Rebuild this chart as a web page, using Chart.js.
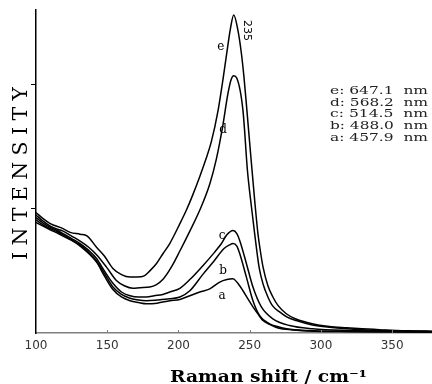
<!DOCTYPE html>
<html><head><meta charset="utf-8">
<script src="https://cdn.jsdelivr.net/npm/chart.js@4/dist/chart.umd.min.js"></script>
<style>html,body{margin:0;padding:0;background:#fff}#wrap{width:432px;height:384px}</style>
</head><body><div id="wrap"><canvas id="c" width="432" height="384"></canvas></div>
<script>
// ---- data ----
const xTicks = [100,150,200,250,300,350];
const yTicks = [1,2];
const curveNames = ['a','b','c','d','e'];
const legendLines = ['e: 647.1  nm','d: 568.2  nm','c: 514.5  nm','b: 488.0  nm','a: 457.9  nm'];
const peakText = '235';

const xA = [100,105,110,115,119,125,131,137,142.5,148,154,160,166,172,177.6,185,194,201,208,215,222,229,234,238.3,241,245.3,249,252.3,256,259.3,264,270,280,295,315,340,378];
const yA = [0.89,0.86,0.83,0.805,0.78,0.745,0.70,0.64,0.57,0.46,0.35,0.29,0.26,0.245,0.235,0.24,0.26,0.27,0.30,0.33,0.355,0.41,0.43,0.436,0.41,0.34,0.27,0.21,0.15,0.10,0.07,0.04,0.025,0.015,0.012,0.01,0.008];

const xB = [100,105,110,115,119,125,131,137,142.5,148,154,160,166,172,177.6,185,194,201,208,217,225,232,236,238.3,241,243,247.7,252.3,257,264,270,276,290,320,350,378];
const yB = [0.91,0.87,0.84,0.815,0.79,0.75,0.71,0.65,0.58,0.48,0.37,0.31,0.28,0.265,0.26,0.265,0.275,0.29,0.34,0.47,0.58,0.68,0.71,0.72,0.70,0.64,0.45,0.26,0.14,0.074,0.05,0.034,0.02,0.013,0.01,0.008];

const xC = [100,105,110,115,119,125,131,137,142.5,148,154,160,166,172,177.6,183,189,194,201,208,217,225,230.2,234,238.3,241,243,247.7,252.3,258.2,266.3,278,294,320,350,378];
const yC = [0.93,0.885,0.85,0.825,0.80,0.76,0.72,0.665,0.60,0.50,0.40,0.33,0.30,0.29,0.29,0.30,0.31,0.33,0.36,0.43,0.54,0.645,0.72,0.79,0.825,0.80,0.745,0.56,0.37,0.21,0.114,0.06,0.034,0.02,0.015,0.01];

const xD = [100,105,110,115,119,125,131,137,142.5,149.5,156.6,162,168,173,179.9,184.6,189,195,201,208,215,222,226.6,231,234.8,237,238.8,241,245.3,248.5,251.2,253.5,256.6,259.5,262.8,266,271,276,282.7,294,306,329,353,378];
const yD = [0.95,0.90,0.86,0.835,0.82,0.78,0.74,0.69,0.63,0.53,0.42,0.38,0.36,0.365,0.37,0.39,0.43,0.53,0.66,0.82,0.99,1.20,1.40,1.66,1.93,2.04,2.07,2.05,1.79,1.30,1.02,0.80,0.53,0.39,0.29,0.22,0.17,0.13,0.10,0.065,0.047,0.027,0.018,0.012];

const xE = [100,105,110,119,124,131,136,142.5,148,154,160,166,171,176,179.9,184.6,189.2,193.9,201,205.6,210,215,219,223.1,227.8,231.5,234.5,236.5,238.8,241.7,244.2,246,248,250,253.5,255.8,257.5,259.4,262.8,266.3,270,275.7,282,289.7,298,306,318,329,341,353,365,378];
const yE = [0.97,0.92,0.88,0.84,0.81,0.795,0.78,0.69,0.62,0.52,0.47,0.45,0.45,0.46,0.50,0.56,0.64,0.72,0.88,0.99,1.11,1.26,1.39,1.54,1.79,2.06,2.30,2.45,2.56,2.44,2.25,2.06,1.80,1.53,1.07,0.80,0.66,0.53,0.38,0.29,0.22,0.155,0.115,0.087,0.065,0.052,0.042,0.034,0.027,0.02,0.017,0.015];

const seriesX = [xA,xB,xC,xD,xE];
const seriesY = [yA,yB,yC,yD,yE];

// ---- annotation layout (data units) ----
const curveLabelAt = {a:[230.6,0.270], b:[231.3,0.471], c:[230.6,0.758], d:[231.3,1.612], e:[229.7,2.275]};
const peakTextAt = [247.9,2.435];

const datasets = curveNames.map((n,i)=>({
  label:n,
  data: seriesX[i].map((x,j)=>({x:x,y:seriesY[i][j]})),
  borderColor:'#000', borderWidth:1.5, pointRadius:0, fill:false,
  cubicInterpolationMode:'monotone'
}));

function stretchText(ctx, text, x, y, w, font, align, rot){
  ctx.save();
  ctx.font = font;
  ctx.translate(x,y);
  if (rot) ctx.rotate(rot);
  const m = ctx.measureText(text).width;
  ctx.scale(w/m,1);
  ctx.textAlign = align;
  ctx.fillText(text,0,0);
  ctx.restore();
}

const annot = {
  id:'annot',
  afterDraw(chart){
    const ctx = chart.ctx, xs = chart.scales.x, ys = chart.scales.y, ca = chart.chartArea;
    ctx.save();
    // inward x ticks
    ctx.strokeStyle = '#808080'; ctx.lineWidth = 1;
    xTicks.forEach(v=>{
      if (v===xs.min) return;
      const px = Math.round(xs.getPixelForValue(v))+0.5;
      ctx.beginPath(); ctx.moveTo(px, ca.bottom); ctx.lineTo(px, ca.bottom-3); ctx.stroke();
    });
    ctx.fillStyle = '#000';
    ctx.textBaseline = 'alphabetic';
    // curve labels
    ctx.font = '12px "DejaVu Serif"';
    ctx.textAlign = 'center';
    curveNames.forEach(n=>{
      const p = curveLabelAt[n];
      ctx.fillText(n, xs.getPixelForValue(p[0]), ys.getPixelForValue(p[1]));
    });
    // peak label
    ctx.save();
    ctx.font = '11px "DejaVu Sans"';
    ctx.translate(xs.getPixelForValue(peakTextAt[0]), ys.getPixelForValue(peakTextAt[1]));
    ctx.rotate(Math.PI/2);
    ctx.textAlign='center'; ctx.textBaseline='middle';
    ctx.fillText(peakText,0,0);
    ctx.restore();
    // legend
    ctx.fillStyle = '#222';
    legendLines.forEach((t,i)=>{
      stretchText(ctx, t, 330, 94 + i*11.7, 98, '11px "DejaVu Serif"', 'left', 0);
    });
    ctx.fillStyle = '#000';
    // y title
    stretchText(ctx, 'I N T E N S I T Y', 26.5, 173.5, 173, '20px "DejaVu Serif"', 'center', -Math.PI/2);
    // x title
    stretchText(ctx, 'Raman shift / cm\u207B\u00B9', 268.5, 381.5, 197, 'bold 16px "DejaVu Serif"', 'center', 0);
    ctx.restore();
  }
};

new Chart(document.getElementById('c'), {
  type:'line',
  data:{datasets},
  plugins:[annot],
  options:{
    responsive:false, animation:false, devicePixelRatio:1,
    layout:{padding:{top:10,right:0,left:0,bottom:0}},
    plugins:{legend:{display:false},tooltip:{enabled:false}},
    scales:{
      x:{type:'linear', min:100, max:378,
        afterBuildTicks:s=>{ s.ticks = xTicks.map(v=>({value:v})); },
        ticks:{font:{family:'DejaVu Sans',size:12}, color:'#333', padding:6, maxRotation:0, autoSkip:false},
        grid:{display:true, drawOnChartArea:false, drawTicks:false},
        border:{display:true, color:'#808080', width:1.5},
        afterFit:s=>{ s.height = 51; }
      },
      y:{type:'linear', min:0, max:2.6,
        afterBuildTicks:s=>{ s.ticks = yTicks.map(v=>({value:v})); },
        ticks:{display:false},
        grid:{display:true, drawOnChartArea:false, drawTicks:true, tickLength:5, color:'#000', lineWidth:1},
        border:{display:true, color:'#000', width:1.5},
        afterFit:s=>{ s.width = 36; }
      }
    }
  }
});
</script></body></html>
